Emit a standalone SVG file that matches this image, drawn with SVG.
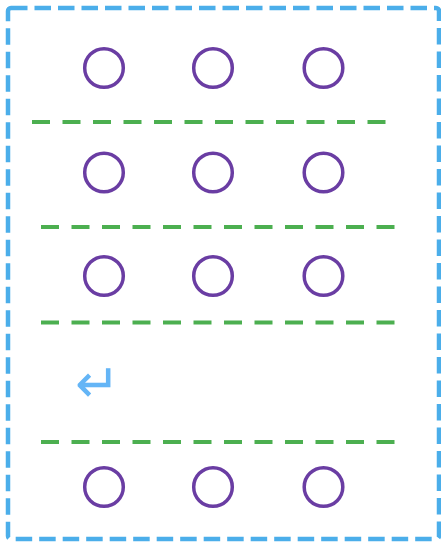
<svg xmlns="http://www.w3.org/2000/svg" width="441" height="544" viewBox="0 0 441 544">
  <style>
    .frame { fill: none; stroke: #4BAEEA; stroke-width: 4.5; stroke-dasharray: 16.5 7; }
    .sep { fill: none; stroke: #4CAF50; stroke-width: 4; stroke-dasharray: 18 12.5; }
    .dot { fill: none; stroke: #6A3DA3; stroke-width: 3.5; }
    .ret { font-family: "DejaVu Sans", sans-serif; font-size: 54px; fill: #64B5F6; }
  </style>
  <rect width="441" height="544" fill="#fff"/>

  <!-- outer dashed frame -->
  <rect class="frame" x="8" y="8" width="431" height="531" rx="3"/>

  <!-- dashed separators -->
  <g id="separators">
    <line class="sep" x1="32" y1="122" x2="388" y2="122"/>
    <line class="sep" x1="41" y1="227" x2="395" y2="227"/>
    <line class="sep" x1="41" y1="322.5" x2="395" y2="322.5"/>
    <line class="sep" x1="41" y1="442" x2="395" y2="442"/>
  </g>

  <!-- row 1 -->
  <g id="r1c1"><circle class="dot" cx="104" cy="68" r="19.3"/></g>
  <g id="r1c2"><circle class="dot" cx="213" cy="68" r="19.3"/></g>
  <g id="r1c3"><circle class="dot" cx="323.5" cy="68" r="19.3"/></g>

  <!-- row 2 -->
  <g id="r2c1"><circle class="dot" cx="104" cy="172.5" r="19.3"/></g>
  <g id="r2c2"><circle class="dot" cx="213" cy="172.5" r="19.3"/></g>
  <g id="r2c3"><circle class="dot" cx="323.5" cy="172.5" r="19.3"/></g>

  <!-- row 3 -->
  <g id="r3c1"><circle class="dot" cx="104" cy="276" r="19.3"/></g>
  <g id="r3c2"><circle class="dot" cx="213" cy="276" r="19.3"/></g>
  <g id="r3c3"><circle class="dot" cx="323.5" cy="276" r="19.3"/></g>

  <!-- line break marker -->
  <g id="linebreak"><text class="ret" x="75" y="402">↵</text></g>

  <!-- row 4 -->
  <g id="r4c1"><circle class="dot" cx="104" cy="487" r="19.3"/></g>
  <g id="r4c2"><circle class="dot" cx="213" cy="487" r="19.3"/></g>
  <g id="r4c3"><circle class="dot" cx="323.5" cy="487" r="19.3"/></g>
</svg>
